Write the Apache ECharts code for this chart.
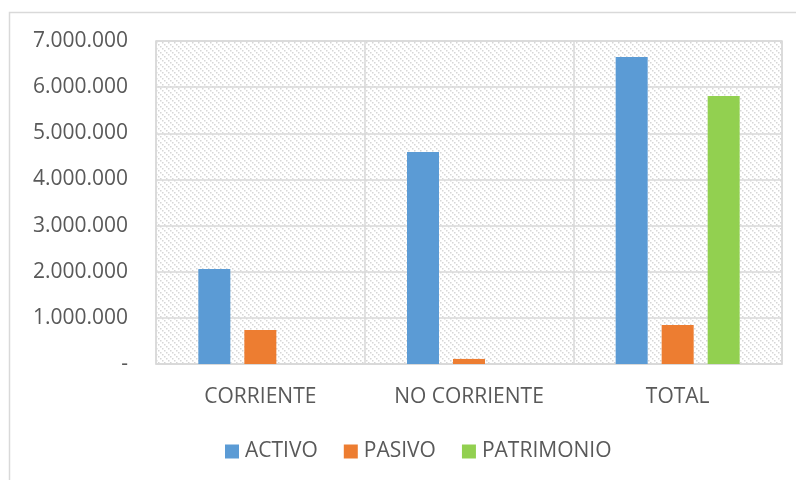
<!DOCTYPE html>
<html>
<head>
<meta charset="utf-8">
<script src="https://cdn.jsdelivr.net/npm/echarts@6/dist/echarts.min.js"></script>
<style>
  html, body { margin: 0; padding: 0; background: #fff; }
  #chart { width: 796px; height: 480px; }
</style>
</head>
<body>
<div id="chart"></div>
<script>
"use strict";
const CATEGORIES = ["CORRIENTE", "NO CORRIENTE", "TOTAL"];
const ACTIVO = [2060000, 4595000, 6655000];
const PASIVO = [737000, 110000, 847000];
const PATRIMONIO = [null, null, 5808000];
const Y_TICKS = { min: 0, max: 7000000, interval: 1000000 };

const TEXT = "#595959", GRID = "#d9d9d9";
const FONT = "'Open Sans', sans-serif";

// light diagonal hatch used as the plot background
function hatch() {
  const c = document.createElement("canvas");
  c.width = 6; c.height = 6;
  const g = c.getContext("2d");
  g.fillStyle = "#fff"; g.fillRect(0, 0, 6, 6);
  g.fillStyle = "#d6d6d6";
  for (let i = 0; i < 6; i += 2) g.fillRect(i, i, 1.5, 1.5);
  return c;
}

const fmt = (v) => v === 0 ? "-" : v.toLocaleString("de-DE");

const chart = echarts.init(document.getElementById("chart"), null, { renderer: "canvas" });
chart.setOption({
  animation: false,
  textStyle: { fontFamily: FONT, color: TEXT },
  graphic: [{ type: "rect", shape: { x: 9.5, y: 12.5, width: 800, height: 500 },
    style: { fill: "none", stroke: GRID, lineWidth: 1.5 }, silent: true, z: -10 }],
  grid: { left: 156, right: 14, top: 41, bottom: 116, show: true,
    backgroundColor: { image: hatch(), repeat: "repeat" }, borderColor: GRID, borderWidth: 1.5 },
  legend: {
    bottom: 13, left: 220, itemWidth: 14, itemHeight: 14, itemGap: 26,
    icon: "rect",
    textStyle: { fontSize: 21, color: TEXT, fontFamily: FONT, padding: [0, 0, 0, 1] },
    data: ["ACTIVO", "PASIVO", "PATRIMONIO"]
  },
  xAxis: {
    type: "category", data: CATEGORIES,
    axisLine: { lineStyle: { color: GRID, width: 1.5 } },
    axisTick: { show: false },
    splitLine: { show: true, lineStyle: { color: GRID, width: 1.5 } },
    axisLabel: { fontSize: 21, color: TEXT, margin: 23 }
  },
  yAxis: {
    type: "value", ...Y_TICKS,
    axisLine: { show: false }, axisTick: { show: false },
    splitLine: { lineStyle: { color: GRID, width: 1.5 } },
    axisLabel: { fontSize: 21, color: TEXT, margin: 28, formatter: fmt }
  },
  series: [
    { name: "ACTIVO", type: "bar", data: ACTIVO, barWidth: 32, barGap: "43.75%",
      itemStyle: { color: "#5b9bd5" } },
    { name: "PASIVO", type: "bar", data: PASIVO, barWidth: 32, barGap: "43.75%",
      itemStyle: { color: "#ed7d31" } },
    { name: "PATRIMONIO", type: "bar", data: PATRIMONIO, barWidth: 32, barGap: "43.75%",
      itemStyle: { color: "#92d050" } }
  ]
});
</script>
</body>
</html>
